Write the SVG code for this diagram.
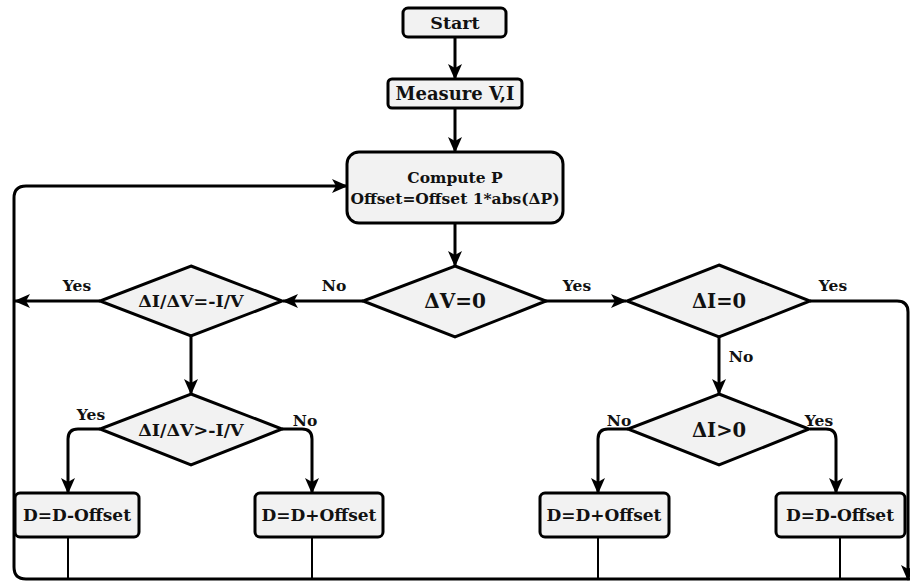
<svg xmlns="http://www.w3.org/2000/svg" width="910" height="582" viewBox="0 0 910 582">
<style>
.box{fill:#f2f2f2;stroke:#000;stroke-width:3}
.dia{fill:#f2f2f2;stroke:#000;stroke-width:3;stroke-linejoin:miter}
.t{font-family:"DejaVu Serif","Liberation Serif",serif;font-weight:bold;fill:#111;text-anchor:middle}
.lbl{font-family:"DejaVu Serif","Liberation Serif",serif;font-weight:bold;fill:#111;font-size:15.5px}
.c{fill:none;stroke:#000;stroke-width:3}
.c2{fill:none;stroke:#000;stroke-width:2}
.a{marker-end:url(#ah)}
</style>
<defs>
<marker id="ah" markerUnits="userSpaceOnUse" markerWidth="16" markerHeight="16" viewBox="0 0 16 16" refX="15" refY="8" orient="auto">
<path d="M0,1 L16,8 L0,15 L4,8 z" fill="#000"/>
</marker>
</defs>
<g id="connectors">
<path class="c a" d="M455,37 V79"/>
<path class="c a" d="M455,108 V152"/>
<path class="c a" d="M455,223 V266"/>
<path class="c a" d="M363,301 H283"/>
<path class="c a" d="M100,301 H15"/>
<path class="c a" d="M545,301 H626"/>
<path class="c a" d="M191,335 V394"/>
<path class="c a" d="M719,337 V394"/>
<path class="c a" d="M100,429 H78 Q68,429 68,439 V493"/>
<path class="c a" d="M282,429 H302 Q312,429 312,439 V493"/>
<path class="c a" d="M628,429 H608 Q598,429 598,439 V493"/>
<path class="c a" d="M810,429 H826 Q836,429 836,439 V493"/>
<path class="c a" d="M810,301 H897 Q908,301 908,312 V580"/>
<path class="c2" d="M68,537 V579"/>
<path class="c2" d="M312,537 V579"/>
<path class="c2" d="M598,537 V579"/>
<path class="c2" d="M840,537 V579"/>
<path class="c a" d="M910,579 H26 Q14,579 14,567 V198 Q14,186 26,186 H347"/>
<text class="lbl" x="77" y="291" text-anchor="middle">Yes</text>
<text class="lbl" x="334" y="291" text-anchor="middle">No</text>
<text class="lbl" x="577" y="291" text-anchor="middle">Yes</text>
<text class="lbl" x="833" y="291" text-anchor="middle">Yes</text>
<text class="lbl" x="741" y="362" text-anchor="middle">No</text>
<text class="lbl" x="91" y="420" text-anchor="middle">Yes</text>
<text class="lbl" x="305" y="426" text-anchor="middle">No</text>
<text class="lbl" x="619" y="426" text-anchor="middle">No</text>
<text class="lbl" x="819" y="426" text-anchor="middle">Yes</text>
</g>
<g id="start">
<rect class="box" x="403" y="8" width="103" height="29" rx="5"/>
<text class="t" x="455" y="29" font-size="17.5">Start</text>
</g>
<g id="measure">
<rect class="box" x="388" y="79" width="134" height="29" rx="4"/>
<text class="t" x="455" y="100" font-size="18">Measure V,I</text>
</g>
<g id="compute">
<rect class="box" x="347" y="152" width="216" height="71" rx="12"/>
<text class="t" x="455" y="183" font-size="15.5">Compute P</text>
<text class="t" x="455" y="204" font-size="15.5">Offset=Offset 1*abs(ΔP)</text>
</g>
<g id="dv0">
<polygon class="dia" points="455,266 546,301 455,337 363,301"/>
<text class="t" x="455" y="308" font-size="20">ΔV=0</text>
</g>
<g id="didv_eq">
<polygon class="dia" points="191,266 282,301 191,336 100,301"/>
<text class="t" x="191" y="307" font-size="17.5">ΔI/ΔV=-I/V</text>
</g>
<g id="di0">
<polygon class="dia" points="719,265 810,301 719,337 627,301"/>
<text class="t" x="719" y="308" font-size="19.5">ΔI=0</text>
</g>
<g id="didv_gt">
<polygon class="dia" points="191,394 282,429 191,465 100,429"/>
<text class="t" x="191" y="436" font-size="17.5">ΔI/ΔV&gt;-I/V</text>
</g>
<g id="digt0">
<polygon class="dia" points="719,394 809,429 719,465 628,429"/>
<text class="t" x="719" y="437" font-size="19.5">ΔI&gt;0</text>
</g>
<g id="d_minus_left">
<rect class="box" x="15" y="493" width="124" height="44" rx="5"/>
<text class="t" x="77" y="521" font-size="17">D=D-Offset</text>
</g>
<g id="d_plus_left">
<rect class="box" x="255" y="493" width="128" height="44" rx="5"/>
<text class="t" x="319" y="521" font-size="17">D=D+Offset</text>
</g>
<g id="d_plus_right">
<rect class="box" x="540" y="493" width="129" height="44" rx="5"/>
<text class="t" x="604" y="521" font-size="17">D=D+Offset</text>
</g>
<g id="d_minus_right">
<rect class="box" x="776" y="493" width="129" height="44" rx="5"/>
<text class="t" x="840" y="521" font-size="17">D=D-Offset</text>
</g>
</svg>
